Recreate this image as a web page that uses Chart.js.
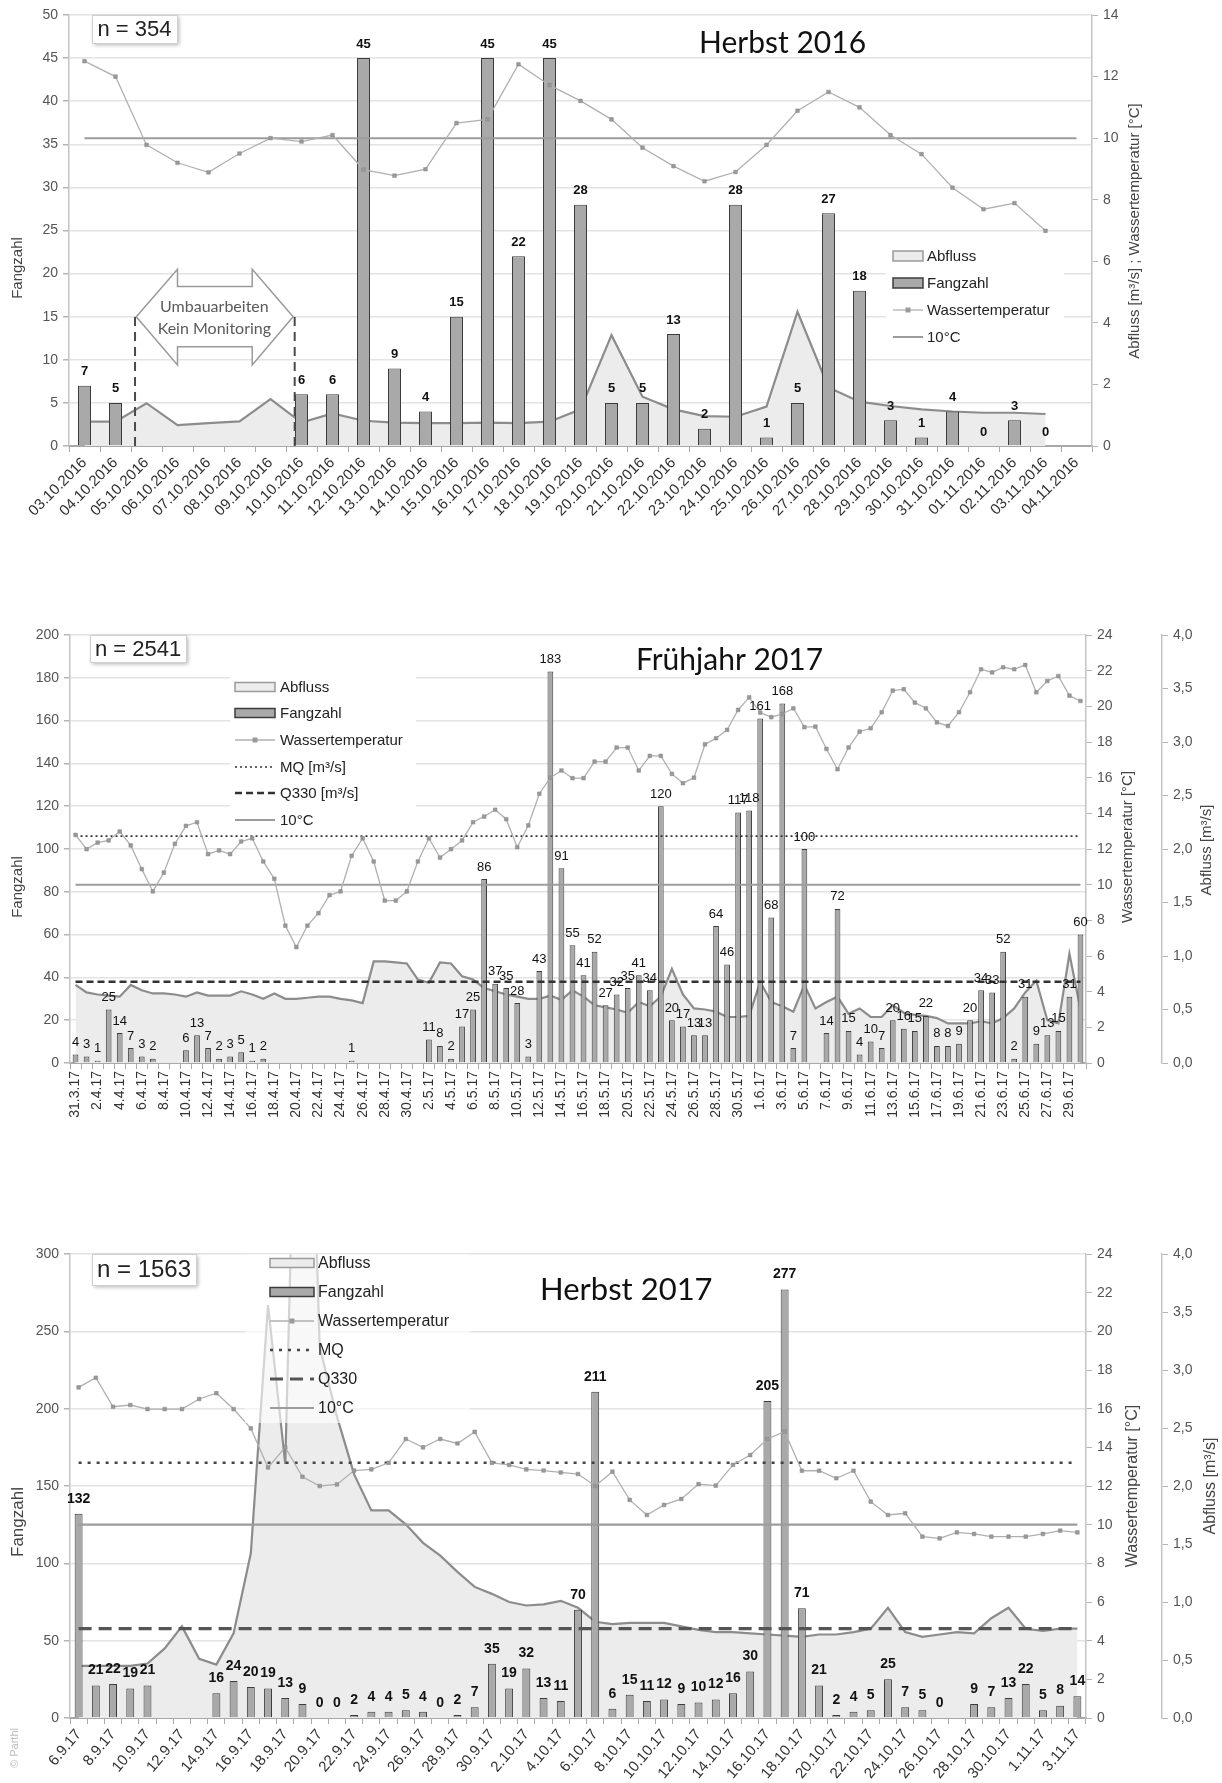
<!DOCTYPE html>
<html lang="de">
<head>
<meta charset="utf-8">
<title>Fangzahl, Abfluss und Wassertemperatur</title>
<script src="https://cdn.jsdelivr.net/npm/chart.js@4.4.1/dist/chart.umd.min.js"></script>
<style>
  html, body { margin: 0; padding: 0; background: #fff; }
  #page { position: relative; width: 1222px; height: 1783px; overflow: hidden; }
  #page canvas { position: absolute; left: 0; }
</style>
</head>
<body>
<div id="page">
  <canvas id="c1" width="1222" height="600" style="top:0px"></canvas>
  <canvas id="c2" width="1222" height="560" style="top:600px"></canvas>
  <canvas id="c3" width="1222" height="623" style="top:1160px"></canvas>
</div>
<script>
// ── Herbst 2016 ──
const h16Labels = ['03.10.2016','04.10.2016','05.10.2016','06.10.2016','07.10.2016','08.10.2016','09.10.2016',
  '10.10.2016','11.10.2016','12.10.2016','13.10.2016','14.10.2016','15.10.2016','16.10.2016','17.10.2016',
  '18.10.2016','19.10.2016','20.10.2016','21.10.2016','22.10.2016','23.10.2016','24.10.2016','25.10.2016',
  '26.10.2016','27.10.2016','28.10.2016','29.10.2016','30.10.2016','31.10.2016','01.11.2016','02.11.2016',
  '03.11.2016','04.11.2016'];
const h16Fangzahl = [7, 5, null, null, null, null, null, 6, 6, 45, 9, 4, 15, 45, 22, 45, 28, 5, 5, 13, 2, 28,
  1, 5, 27, 18, 3, 1, 4, 0, 3, 0, null];
const h16Temp = [12.5, 12.0, 9.78, 9.2, 8.89, 9.5, 10.0, 9.89, 10.1, 8.98, 8.78, 8.99, 10.49, 10.61, 12.4,
  11.72, 11.21, 10.61, 9.69, 9.09, 8.6, 8.9, 9.78, 10.89, 11.5, 11.0, 10.1, 9.48, 8.39, 7.69, 7.89, 6.99, null];
const h16Abfluss = [0.79, 0.79, 1.39, 0.68, 0.74, 0.8, 1.52, 0.76, 1.06, 0.82, 0.76, 0.74, 0.74, 0.76, 0.74,
  0.79, 1.19, 3.6, 1.6, 1.19, 0.97, 0.95, 1.28, 4.36, 1.9, 1.44, 1.3, 1.19, 1.12, 1.08, 1.08, 1.04, null];
const h16Ten = 10;

// ── Frühjahr 2017 ──
const f17Labels = ['31.3.17',
  '1.4.17','2.4.17','3.4.17','4.4.17','5.4.17','6.4.17','7.4.17','8.4.17','9.4.17','10.4.17',
  '11.4.17','12.4.17','13.4.17','14.4.17','15.4.17','16.4.17','17.4.17','18.4.17','19.4.17','20.4.17',
  '21.4.17','22.4.17','23.4.17','24.4.17','25.4.17','26.4.17','27.4.17','28.4.17','29.4.17','30.4.17',
  '1.5.17','2.5.17','3.5.17','4.5.17','5.5.17','6.5.17','7.5.17','8.5.17','9.5.17','10.5.17',
  '11.5.17','12.5.17','13.5.17','14.5.17','15.5.17','16.5.17','17.5.17','18.5.17','19.5.17','20.5.17',
  '21.5.17','22.5.17','23.5.17','24.5.17','25.5.17','26.5.17','27.5.17','28.5.17','29.5.17','30.5.17','31.5.17',
  '1.6.17','2.6.17','3.6.17','4.6.17','5.6.17','6.6.17','7.6.17','8.6.17','9.6.17','10.6.17',
  '11.6.17','12.6.17','13.6.17','14.6.17','15.6.17','16.6.17','17.6.17','18.6.17','19.6.17','20.6.17',
  '21.6.17','22.6.17','23.6.17','24.6.17','25.6.17','26.6.17','27.6.17','28.6.17','29.6.17','30.6.17'];
const f17Fangzahl = [4, 3, 1, 25, 14, 7, 3, 2, null, null,
  6, 13, 7, 2, 3, 5, 1, 2, null, null,
  null, null, null, null, null, 1, null, null, null, null,
  null, null, 11, 8, 2, 17, 25, 86, 37, 35,
  28, 3, 43, 183, 91, 55, 41, 52, 27, 32,
  35, 41, 34, 120, 20, 17, 13, 13, 64, 46,
  117, 118, 161, 68, 168, 7, 100, null, 14, 72,
  15, 4, 10, 7, 20, 16, 15, 22, 8, 8,
  9, 20, 34, 33, 52, 2, 31, 9, 13, 15,
  31, 60];
const f17Temp = [12.79, 11.99, 12.36, 12.48, 12.98, 12.2, 10.87, 9.62, 10.68, 12.29,
  13.3, 13.5, 11.71, 11.92, 11.71, 12.42, 12.6, 11.3, 10.33, 7.7,
  6.5, 7.7, 8.4, 9.41, 9.62, 11.62, 12.6, 11.3, 9.11, 9.11,
  9.62, 11.3, 12.6, 11.52, 11.99, 12.48, 13.5, 13.82, 14.2, 13.67,
  12.1, 13.32, 15.1, 16.0, 16.4, 15.97, 15.97, 16.9, 16.9, 17.69,
  17.69, 16.4, 17.22, 17.22, 16.21, 15.69, 16.0, 17.87, 18.21, 18.68,
  19.8, 20.5, 19.65, 19.39, 19.57, 19.89, 18.83, 18.86, 17.61, 16.47,
  17.69, 18.58, 18.77, 19.67, 20.88, 20.96, 20.21, 19.89, 19.1, 18.9,
  19.67, 20.79, 22.08, 21.9, 22.19, 22.08, 22.32, 20.79, 21.42, 21.7,
  20.6, 20.3];
const f17Abfluss = [0.73, 0.66, 0.64, 0.63, 0.62, 0.73, 0.68, 0.65, 0.65, 0.64,
  0.62, 0.66, 0.63, 0.63, 0.63, 0.67, 0.64, 0.60, 0.65, 0.60,
  0.60, 0.61, 0.62, 0.62, 0.60, 0.585, 0.56, 0.95, 0.95, 0.94,
  0.93, 0.78, 0.75, 0.94, 0.93, 0.81, 0.78, 0.70, 0.67, 0.64,
  0.62, 0.60, 0.60, 0.63, 0.59, 0.68, 0.62, 0.54, 0.52, 0.50,
  0.47, 0.57, 0.53, 0.62, 0.88, 0.64, 0.51, 0.50, 0.48, 0.43,
  0.43, 0.44, 0.76, 0.57, 0.53, 0.48, 0.73, 0.51, 0.57, 0.62,
  0.46, 0.51, 0.43, 0.43, 0.54, 0.47, 0.45, 0.44, 0.42, 0.37,
  0.37, 0.37, 0.39, 0.37, 0.42, 0.51, 0.66, 0.77, 0.40, 0.37,
  1.02, 0.50];
const f17MQ = 2.12;
const f17Q330 = 0.76;
const f17Ten = 10;

// ── Herbst 2017 ──
const h17Labels = ['6.9.17','7.9.17','8.9.17','9.9.17','10.9.17','11.9.17','12.9.17','13.9.17','14.9.17',
  '15.9.17','16.9.17','17.9.17','18.9.17','19.9.17','20.9.17','21.9.17','22.9.17','23.9.17','24.9.17',
  '25.9.17','26.9.17','27.9.17','28.9.17','29.9.17','30.9.17',
  '1.10.17','2.10.17','3.10.17','4.10.17','5.10.17','6.10.17','7.10.17','8.10.17','9.10.17','10.10.17',
  '11.10.17','12.10.17','13.10.17','14.10.17','15.10.17','16.10.17','17.10.17','18.10.17','19.10.17',
  '20.10.17','21.10.17','22.10.17','23.10.17','24.10.17','25.10.17','26.10.17','27.10.17','28.10.17',
  '29.10.17','30.10.17','31.10.17','1.11.17','2.11.17','3.11.17'];
const h17Fangzahl = [132, 21, 22, 19, 21, null, null, null, 16, 24,
  20, 19, 13, 9, 0, 0, 2, 4, 4, 5,
  4, 0, 2, 7, 35, 19, 32, 13, 11, 70,
  211, 6, 15, 11, 12, 9, 10, 12, 16, 30,
  205, 277, 71, 21, 2, 4, 5, 25, 7, 5,
  0, null, 9, 7, 13, 22, 5, 8, 14];
const h17Temp = [17.1, 17.6, 16.1, 16.19, 15.98, 15.98, 15.98, 16.5, 16.8, 15.98,
  14.98, 12.96, 14.0, 12.48, 12.0, 12.08, 12.8, 12.86, 13.2, 14.43,
  14.0, 14.43, 14.2, 14.8, 13.2, 13.09, 12.86, 12.8, 12.7, 12.62,
  12.0, 12.74, 11.28, 10.5, 11.02, 11.33, 12.1, 12.02, 13.09, 13.6,
  14.43, 14.81, 12.79, 12.79, 12.4, 12.79, 11.19, 10.5, 10.59, 9.38,
  9.29, 9.6, 9.52, 9.38, 9.38, 9.38, 9.52, 9.69, 9.6];
const h17Abfluss = [0.45, 0.45, 0.45, 0.45, 0.47, 0.60, 0.79, 0.51, 0.46, 0.73,
  1.42, 3.56, 2.19, 8.0, 3.2, 2.6, 2.1, 1.79, 1.79, 1.67,
  1.51, 1.40, 1.26, 1.13, 1.07, 1.0, 0.97, 0.98, 1.01, 0.95,
  0.83, 0.81, 0.82, 0.82, 0.82, 0.79, 0.76, 0.74, 0.74, 0.73,
  0.72, 0.71, 0.70, 0.72, 0.72, 0.74, 0.77, 0.95, 0.74, 0.70,
  0.72, 0.74, 0.73, 0.86, 0.95, 0.77, 0.75, 0.77, 0.77];
const h17MQ = 2.2;
const h17Q330 = 0.77;
const h17Ten = 10;

// ── Shared styles ──
const SANS = '"Liberation Sans", Arial, sans-serif';
const TITLE = 'Lato, "Open Sans", sans-serif';
const BAR_FILL = '#a9a9a9', BAR_LINE = '#3c3c3c';
const AREA_FILL = '#ececec', AREA_LINE = '#8c8c8c';

const lineTypes = {
  ten:  { type: 'line', color: '#9c9c9c', width: 2 },
  temp: { type: 'temp', color: '#b0b0b0', width: 1.3 }
};

// Decorations per canvas (page coordinates, top = canvas offset)
const deco = {
  c1: {
    top: 0,
    hlines: [{ axis: 'yR', value: h16Ten, color: '#9c9c9c', width: 2 }],
    labelFont: 'bold 13px ' + SANS, labelOff: 14,
    title: { text: 'Herbst 2016', x: 699, y: 53, font: '30px ' + TITLE },
    nbox: { text: 'n = 354', x: 92, y: 15, w: 85, h: 28, font: '22px ' + SANS },
    legend: {
      x: 893, w: 30, tx: 927, boxH: 10, font: '15px ' + SANS,
      rows: [256, 283, 310, 337],
      bg: { x: 886, y: 243, w: 178, h: 108, color: '#fff' },
      items: [
        { type: 'area', text: 'Abfluss' },
        { type: 'bar', text: 'Fangzahl' },
        Object.assign({ text: 'Wassertemperatur' }, lineTypes.temp),
        Object.assign({ text: '10°C' }, lineTypes.ten)
      ]
    },
    axisTitles: [
      { text: 'Fangzahl', x: 18, y: 268, font: '15px ' + SANS, color: '#444' },
      { text: 'Abfluss [m³/s] ; Wassertemperatur [°C]', x: 1135, y: 231, font: '15px ' + SANS, color: '#444' }
    ],
    gap: {
      lines: [1.63, 6.78], lineTop: 15,
      arrow: [[1.67, 15], [3.0, 20.5], [3.0, 18.5], [5.41, 18.5], [5.41, 20.5], [6.73, 15],
              [5.41, 9.4], [5.41, 11.5], [3.0, 11.5], [3.0, 9.4]],
      text: [['Umbauarbeiten', 4.19, 16.1], ['Kein Monitoring', 4.19, 13.6]],
      font: '16px ' + TITLE
    }
  },
  c2: {
    top: 600,
    hlines: [
      { axis: 'yA', value: f17MQ, color: '#333', width: 1.6, dash: [2, 3] },
      { axis: 'yA', value: f17Q330, color: '#333', width: 2.4, dash: [7, 4] },
      { axis: 'yT', value: f17Ten, color: '#9c9c9c', width: 2 }
    ],
    labelFont: '13px ' + SANS, labelOff: 12,
    title: { text: 'Frühjahr 2017', x: 636, y: 670, font: '30px ' + TITLE },
    nbox: { text: 'n = 2541', x: 90, y: 635, w: 96, h: 27, font: '22px ' + SANS },
    legend: {
      x: 235, w: 40, tx: 280, boxH: 9, font: '15px ' + SANS,
      rows: [687, 713, 740, 767, 793, 820],
      bg: { x: 230, y: 673, w: 186, h: 160, color: '#fff' },
      items: [
        { type: 'area', text: 'Abfluss' },
        { type: 'bar', text: 'Fangzahl' },
        Object.assign({ text: 'Wassertemperatur' }, lineTypes.temp),
        { type: 'line', text: 'MQ [m³/s]', color: '#333', width: 1.6, dash: [2, 3] },
        { type: 'line', text: 'Q330 [m³/s]', color: '#333', width: 2.4, dash: [7, 4] },
        Object.assign({ text: '10°C' }, lineTypes.ten)
      ]
    },
    axisTitles: [
      { text: 'Fangzahl', x: 18, y: 887, font: '15px ' + SANS, color: '#444' },
      { text: 'Wassertemperatur [°C]', x: 1128, y: 847, font: '15px ' + SANS, color: '#444' },
      { text: 'Abfluss [m³/s]', x: 1207, y: 850, font: '15px ' + SANS, color: '#444' }
    ]
  },
  c3: {
    top: 1160,
    hlines: [
      { axis: 'yA', value: h17MQ, color: '#444', width: 2.6, dash: [3, 6] },
      { axis: 'yA', value: h17Q330, color: '#555', width: 3.2, dash: [13, 7] },
      { axis: 'yT', value: h17Ten, color: '#9c9c9c', width: 2.2 }
    ],
    labelFont: 'bold 14px ' + SANS, labelOff: 15,
    title: { text: 'Herbst 2017', x: 540, y: 1300, font: '31px ' + TITLE },
    nbox: { text: 'n = 1563', x: 92, y: 1254, w: 104, h: 31, font: '24px ' + SANS },
    legend: {
      x: 270, w: 44, tx: 318, boxH: 9, font: '16px ' + SANS,
      rows: [1263, 1292, 1321, 1350, 1379, 1408],
      bg: { x: 245, y: 1254, w: 225, h: 169, color: 'rgba(255,255,255,0.62)' },
      items: [
        { type: 'area', text: 'Abfluss' },
        { type: 'bar', text: 'Fangzahl' },
        Object.assign({ text: 'Wassertemperatur' }, lineTypes.temp),
        { type: 'line', text: 'MQ', color: '#444', width: 2.6, dash: [3, 6] },
        { type: 'line', text: 'Q330', color: '#555', width: 3.2, dash: [13, 7] },
        Object.assign({ text: '10°C' }, lineTypes.ten)
      ]
    },
    axisTitles: [
      { text: 'Fangzahl', x: 18, y: 1522, font: '17px ' + SANS, color: '#444' },
      { text: 'Wassertemperatur [°C]', x: 1133, y: 1486, font: '16px ' + SANS, color: '#444' },
      { text: 'Abfluss [m³/s]', x: 1211, y: 1486, font: '16px ' + SANS, color: '#444' },
      { text: '© Parthl', x: 15, y: 1748, font: '11px ' + SANS, color: '#bdbdbd' }
    ]
  }
};

// ── Drawing helpers ──
function drawRefLines(chart, cfg) {
  const ctx = chart.ctx, xs = chart.scales.x;
  const x0 = xs.getPixelForValue(0);
  const x1 = xs.getPixelForValue(chart.data.labels.length - 1);
  cfg.hlines.forEach(h => {
    const y = chart.scales[h.axis].getPixelForValue(h.value);
    ctx.save();
    ctx.strokeStyle = h.color;
    ctx.lineWidth = h.width;
    ctx.setLineDash(h.dash || []);
    ctx.beginPath();
    ctx.moveTo(x0, y);
    ctx.lineTo(x1, y);
    ctx.stroke();
    ctx.restore();
  });
}

function drawBarLabels(chart, cfg) {
  const ctx = chart.ctx;
  const idx = chart.data.datasets.findIndex(d => d.label === 'Fangzahl');
  const values = chart.data.datasets[idx].data;
  ctx.save();
  ctx.font = cfg.labelFont;
  ctx.fillStyle = '#111';
  ctx.textAlign = 'center';
  ctx.textBaseline = 'middle';
  chart.getDatasetMeta(idx).data.forEach((bar, i) => {
    const v = values[i];
    if (v === null || v === undefined) return;
    ctx.fillText(String(v), bar.x, bar.y - cfg.labelOff);
  });
  ctx.restore();
}

function drawGap(chart, g) {
  const ctx = chart.ctx, xs = chart.scales.x, ys = chart.scales.y;
  const P = (i, v) => [xs.getPixelForValue(i), ys.getPixelForValue(v)];
  ctx.save();
  ctx.strokeStyle = '#4a4a4a';
  ctx.lineWidth = 2;
  ctx.setLineDash([9, 6]);
  g.lines.forEach(i => {
    const [x, y0] = P(i, 0);
    ctx.beginPath();
    ctx.moveTo(x, y0);
    ctx.lineTo(x, ys.getPixelForValue(g.lineTop));
    ctx.stroke();
  });
  ctx.setLineDash([]);
  ctx.beginPath();
  g.arrow.forEach((p, k) => {
    const [x, y] = P(p[0], p[1]);
    if (k) ctx.lineTo(x, y); else ctx.moveTo(x, y);
  });
  ctx.closePath();
  ctx.fillStyle = '#fff';
  ctx.fill();
  ctx.strokeStyle = '#9a9a9a';
  ctx.lineWidth = 1.5;
  ctx.stroke();
  ctx.font = g.font;
  ctx.fillStyle = '#5a5a5a';
  ctx.textAlign = 'center';
  ctx.textBaseline = 'middle';
  g.text.forEach(t => {
    const [x, y] = P(t[1], t[2]);
    ctx.fillText(t[0], x, y);
  });
  ctx.restore();
}

function drawLegend(ctx, cfg) {
  const L = cfg.legend, t = cfg.top;
  ctx.save();
  if (L.bg) {
    ctx.fillStyle = L.bg.color;
    ctx.fillRect(L.bg.x, L.bg.y - t, L.bg.w, L.bg.h);
  }
  L.items.forEach((it, i) => {
    const y = L.rows[i] - t, x = L.x, w = L.w;
    ctx.save();
    if (it.type === 'area' || it.type === 'bar') {
      ctx.fillStyle = it.type === 'area' ? AREA_FILL : BAR_FILL;
      ctx.strokeStyle = it.type === 'area' ? '#9a9a9a' : BAR_LINE;
      ctx.lineWidth = 1.5;
      ctx.fillRect(x, y - L.boxH / 2, w, L.boxH);
      ctx.strokeRect(x, y - L.boxH / 2, w, L.boxH);
    } else {
      ctx.strokeStyle = it.color;
      ctx.lineWidth = it.width;
      ctx.setLineDash(it.dash || []);
      ctx.beginPath();
      ctx.moveTo(x, y);
      ctx.lineTo(x + w, y);
      ctx.stroke();
      if (it.type === 'temp') {
        ctx.fillStyle = '#9a9a9a';
        ctx.fillRect(x + w / 2 - 2.5, y - 2.5, 5, 5);
      }
    }
    ctx.restore();
    ctx.font = L.font;
    ctx.fillStyle = '#222';
    ctx.textAlign = 'left';
    ctx.textBaseline = 'middle';
    ctx.fillText(it.text, L.tx, y + 1);
  });
  ctx.restore();
}

function drawNBox(ctx, cfg) {
  const b = cfg.nbox, y = b.y - cfg.top;
  ctx.save();
  ctx.shadowColor = 'rgba(0,0,0,0.3)';
  ctx.shadowBlur = 4;
  ctx.shadowOffsetX = 2;
  ctx.shadowOffsetY = 2;
  ctx.fillStyle = '#fff';
  ctx.fillRect(b.x, y, b.w, b.h);
  ctx.shadowColor = 'transparent';
  ctx.strokeStyle = '#d0d0d0';
  ctx.lineWidth = 1;
  ctx.strokeRect(b.x + 0.5, y + 0.5, b.w, b.h);
  ctx.font = b.font;
  ctx.fillStyle = '#222';
  ctx.textAlign = 'center';
  ctx.textBaseline = 'middle';
  ctx.fillText(b.text, b.x + b.w / 2, y + b.h / 2 + 1);
  ctx.restore();
}

function drawTexts(ctx, cfg) {
  ctx.save();
  ctx.font = cfg.title.font;
  ctx.fillStyle = '#111';
  ctx.textAlign = 'left';
  ctx.textBaseline = 'alphabetic';
  ctx.fillText(cfg.title.text, cfg.title.x, cfg.title.y - cfg.top);
  cfg.axisTitles.forEach(a => {
    ctx.save();
    ctx.translate(a.x, a.y - cfg.top);
    ctx.rotate(-Math.PI / 2);
    ctx.font = a.font;
    ctx.fillStyle = a.color;
    ctx.textAlign = 'center';
    ctx.textBaseline = 'middle';
    ctx.fillText(a.text, 0, 0);
    ctx.restore();
  });
  ctx.restore();
}

const decoPlugin = {
  id: 'deco',
  beforeDatasetDraw(chart, args) {
    if (chart.data.datasets[args.index].label !== 'Wassertemperatur') return;
    drawRefLines(chart, deco[chart.canvas.id]);
  },
  afterDatasetsDraw(chart) {
    const cfg = deco[chart.canvas.id];
    drawBarLabels(chart, cfg);
    if (cfg.gap) drawGap(chart, cfg.gap);
    drawLegend(chart.ctx, cfg);
    drawNBox(chart.ctx, cfg);
    drawTexts(chart.ctx, cfg);
  }
};

// ── Axis builders ──
const tickFont = { family: SANS, size: 14 };

function xAxis(height, rotation, size, everyOther) {
  return {
    offset: true,
    ticks: {
      autoSkip: false, maxRotation: rotation, minRotation: rotation,
      color: '#333', font: { family: SANS, size }, padding: 2,
      callback: function(value, index) {
        if (everyOther && index % 2) return '';
        return this.getLabelForValue(value);
      }
    },
    grid: { drawOnChartArea: false, offset: true, tickLength: 6, tickColor: '#aaa' },
    border: { color: '#a8a8a8', width: 2 },
    afterFit: s => { s.height = height; }
  };
}

function yLeft(max, step, width) {
  return {
    position: 'left', min: 0, max,
    ticks: { stepSize: step, color: '#555', font: tickFont, padding: 5 },
    grid: { color: '#e3e3e3', lineWidth: 1.5, tickLength: 6, tickColor: '#b5b5b5' },
    border: { color: '#c4c4c4', width: 1.5 },
    afterFit: s => { s.width = width; }
  };
}

function yRight(max, step, width, weight, comma) {
  return {
    position: 'right', min: 0, max, weight,
    ticks: {
      stepSize: step, color: '#555', font: tickFont, padding: 5,
      callback: v => comma ? v.toFixed(1).replace('.', ',') : v
    },
    grid: { drawOnChartArea: false, tickLength: 6, tickColor: '#b5b5b5' },
    border: { color: '#c4c4c4', width: 1.5 },
    afterFit: s => { s.width = width; }
  };
}

function datasets(abfluss, fang, temp, areaAxis, tempAxis, barPct) {
  return [
    {
      type: 'line', label: 'Abfluss', data: abfluss, yAxisID: areaAxis, order: 3,
      fill: 'origin', backgroundColor: AREA_FILL, borderColor: AREA_LINE, borderWidth: 2.2,
      pointRadius: 0, tension: 0
    },
    {
      type: 'bar', label: 'Fangzahl', data: fang, yAxisID: 'y', order: 2,
      backgroundColor: BAR_FILL, borderColor: BAR_LINE, borderWidth: 1,
      barPercentage: barPct, categoryPercentage: 1
    },
    {
      type: 'line', label: 'Wassertemperatur', data: temp, yAxisID: tempAxis, order: 1,
      borderColor: '#b0b0b0', borderWidth: 1.3, fill: false, tension: 0,
      pointStyle: 'rect', pointRadius: 2.6, pointBackgroundColor: '#999', pointBorderColor: '#888',
      pointBorderWidth: 0.5
    }
  ];
}

const common = {
  responsive: false,
  animation: false,
  plugins: { legend: { display: false }, tooltip: { enabled: false } }
};

// ── Herbst 2016 chart ──
new Chart(document.getElementById('c1'), {
  type: 'bar',
  data: { labels: h16Labels, datasets: datasets(h16Abfluss, h16Fangzahl, h16Temp, 'yR', 'yR', 0.42) },
  options: Object.assign({}, common, {
    layout: { padding: { top: 15, right: 74, bottom: 0, left: 0 } },
    scales: {
      x: xAxis(154, 45, 15, false),
      y: yLeft(50, 5, 69),
      yR: yRight(14, 2, 56, 0, false)
    }
  }),
  plugins: [decoPlugin]
});

// ── Frühjahr 2017 chart ──
new Chart(document.getElementById('c2'), {
  type: 'bar',
  data: { labels: f17Labels, datasets: datasets(f17Abfluss, f17Fangzahl, f17Temp, 'yA', 'yT', 0.52) },
  options: Object.assign({}, common, {
    layout: { padding: { top: 35, right: 0, bottom: 0, left: 0 } },
    scales: {
      x: xAxis(97, 90, 14, true),
      y: yLeft(200, 20, 70),
      yT: yRight(24, 2, 76, 0, false),
      yA: yRight(4, 0.5, 60, 1, true)
    }
  }),
  plugins: [decoPlugin]
});

// ── Herbst 2017 chart ──
new Chart(document.getElementById('c3'), {
  type: 'bar',
  data: { labels: h17Labels, datasets: datasets(h17Abfluss, h17Fangzahl, h17Temp, 'yA', 'yT', 0.46) },
  options: Object.assign({}, common, {
    layout: { padding: { top: 94, right: 0, bottom: 0, left: 0 } },
    scales: {
      x: xAxis(65, 50, 15, true),
      y: yLeft(300, 50, 70),
      yT: yRight(24, 2, 76, 0, false),
      yA: yRight(4, 0.5, 60, 1, true)
    }
  }),
  plugins: [decoPlugin]
});
</script>
</body>
</html>
